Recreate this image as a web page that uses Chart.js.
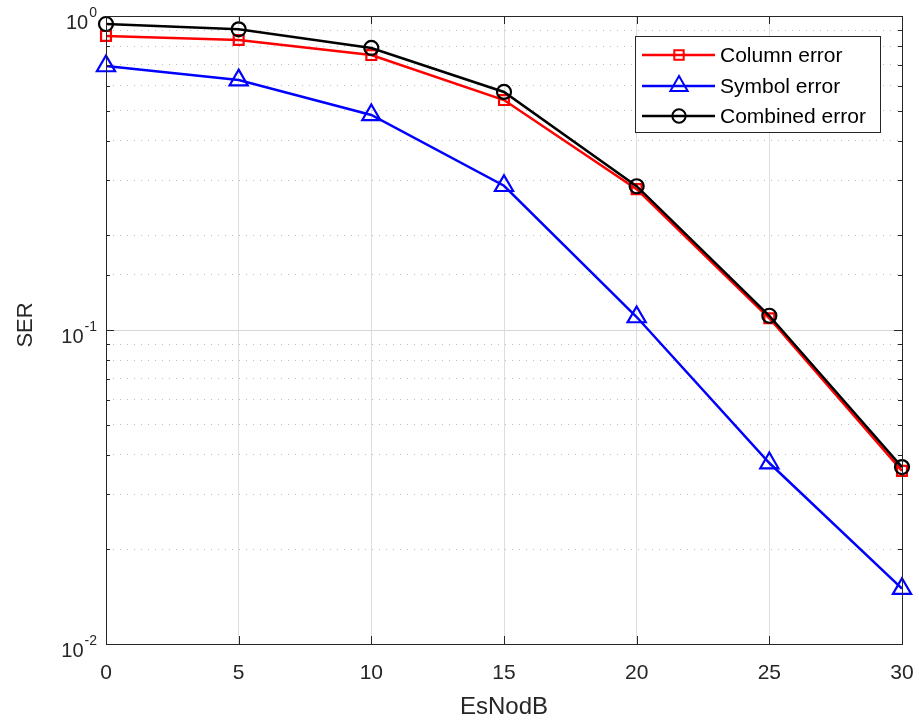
<!DOCTYPE html>
<html><head><meta charset="utf-8">
<script src="https://cdn.jsdelivr.net/npm/chart.js@4/dist/chart.umd.min.js"></script>
<style>html,body{margin:0;padding:0;background:#fff;}#wrap{width:919px;height:725px;}</style>
</head><body><div id="wrap"><canvas id="c" width="919" height="725"></canvas></div>
<script>
const esNodB = [0, 5, 10, 15, 20, 25, 30];
const columnError = [0.864, 0.839, 0.751, 0.540, 0.281, 0.109, 0.0356];
const symbolError = [0.693, 0.625, 0.484, 0.288, 0.110, 0.0377, 0.0150];
const combinedError = [0.943, 0.907, 0.791, 0.573, 0.287, 0.111, 0.0366];
const xTicks = [0, 5, 10, 15, 20, 25, 30];
const yDecades = [0, -1, -2];
const seriesNames = ['Column error', 'Symbol error', 'Combined error'];
const xTitle = 'EsNodB';
const yTitle = 'SER';

const FONT = '"Liberation Sans", Arial, sans-serif';
const TXT = '#262626';
function isMajor(v){ const l = Math.log10(v); return Math.abs(l - Math.round(l)) < 1e-6; }

const pts = (ys) => esNodB.map((x, i) => ({x, y: ys[i]}));

const decorPlugin = {
  id: 'decor',
  afterDraw(chart) {
    const ctx = chart.ctx, a = chart.chartArea, xs = chart.scales.x, ys = chart.scales.y;
    ctx.save();
    // inward ticks
    ctx.strokeStyle = TXT; ctx.lineWidth = 1;
    ctx.beginPath();
    xTicks.forEach(v => {
      const px = Math.round(xs.getPixelForValue(v)) + 0.5;
      ctx.moveTo(px, a.bottom); ctx.lineTo(px, a.bottom - 8);
      ctx.moveTo(px, a.top); ctx.lineTo(px, a.top + 8);
    });
    ys.ticks.forEach(t => {
      const py = Math.round(ys.getPixelForValue(t.value)) + 0.5;
      const len = isMajor(t.value) ? 8 : 4;
      ctx.moveTo(a.left, py); ctx.lineTo(a.left + len, py);
      ctx.moveTo(a.right, py); ctx.lineTo(a.right - len, py);
    });
    ctx.stroke();
    // box
    ctx.strokeRect(Math.round(a.left) + 0.5, Math.round(a.top) + 0.5, Math.round(a.right - a.left), Math.round(a.bottom - a.top));
    // y labels 10^n
    ctx.fillStyle = TXT;
    yDecades.forEach(n => {
      const py = ys.getPixelForValue(Math.pow(10, n));
      const sup = String(n);
      ctx.font = '14px ' + FONT;
      const sw = ctx.measureText(sup).width;
      ctx.textBaseline = 'middle';
      ctx.textAlign = 'right';
      const right = a.left - 9;
      ctx.fillText(sup, right, py - 3);
      ctx.font = '20px ' + FONT;
      ctx.fillText('10', right - sw - 1, py + 7);
    });
    // x labels
    ctx.font = '21px ' + FONT; ctx.textAlign = 'center'; ctx.textBaseline = 'middle';
    xTicks.forEach(v => ctx.fillText(String(v), xs.getPixelForValue(v), 673));
    // titles
    ctx.font = '24px ' + FONT;
    ctx.fillText(xTitle, (a.left + a.right) / 2, 707);
    ctx.font = '22px ' + FONT;
    ctx.save(); ctx.translate(26, (a.top + a.bottom) / 2 - 5); ctx.rotate(-Math.PI / 2);
    ctx.fillText(yTitle, 0, 0); ctx.restore();
    // legend
    const lx = 635, ly = 36, lw = 245, lh = 96;
    ctx.fillStyle = '#fff'; ctx.fillRect(lx, ly, lw, lh);
    ctx.strokeStyle = TXT; ctx.lineWidth = 1;
    ctx.strokeRect(lx + 0.5, ly + 0.5, lw, lh);
    const rows = [55, 86, 116];
    chart.data.datasets.forEach((ds, i) => {
      const y = rows[i];
      ctx.strokeStyle = ds.borderColor; ctx.lineWidth = 2.5;
      ctx.beginPath(); ctx.moveTo(642, y); ctx.lineTo(715, y); ctx.stroke();
      ctx.fillStyle = 'rgba(0,0,0,0)';
      ctx.lineWidth = 2;
      Chart.helpers.drawPoint(ctx, {pointStyle: ds.pointStyle, radius: ds.pointRadius * 0.95, borderWidth: 2, rotation: 0}, 679, y);
      ctx.fillStyle = '#000'; ctx.font = '21px ' + FONT; ctx.textAlign = 'left'; ctx.textBaseline = 'middle';
      ctx.fillText(ds.label, 720, y + 1);
    });
    ctx.restore();
  }
};

new Chart(document.getElementById('c'), {
  type: 'line',
  data: {
    datasets: [
      {label: seriesNames[0], data: pts(columnError), borderColor: '#ff0000', pointBackgroundColor: 'rgba(0,0,0,0)', pointStyle: 'rect', pointRadius: 7, pointBorderWidth: 2.2, borderWidth: 2.5, order: 3, clip: false},
      {label: seriesNames[1], data: pts(symbolError), borderColor: '#0000ff', pointBackgroundColor: 'rgba(0,0,0,0)', pointStyle: 'triangle', pointRadius: 10.5, pointBorderWidth: 2.2, borderWidth: 2.5, order: 2, clip: false},
      {label: seriesNames[2], data: pts(combinedError), borderColor: '#000000', pointBackgroundColor: 'rgba(0,0,0,0)', pointStyle: 'circle', pointRadius: 7, pointBorderWidth: 2.2, borderWidth: 2.5, order: 1, clip: false}
    ]
  },
  options: {
    responsive: false, animation: false,
    layout: {padding: {top: 16, right: 17, left: 0, bottom: 0}},
    plugins: {legend: {display: false}, tooltip: {enabled: false}},
    elements: {line: {tension: 0}},
    scales: {
      x: {
        type: 'linear', min: 0, max: 30,
        afterFit: s => { s.height = 81; },
        afterBuildTicks: s => { s.ticks = xTicks.map(v => ({value: v})); },
        ticks: {display: false},
        grid: {color: '#dedede', lineWidth: 1, drawTicks: false},
        border: {display: false}
      },
      y: {
        type: 'logarithmic', min: 0.01, max: 1,
        afterFit: s => { s.width = 106; },
        ticks: {display: false, autoSkip: false},
        grid: {
          drawTicks: false,
          color: c => (c.tick && isMajor(c.tick.value)) ? '#d6d6d6' : '#bdbdbd',
          lineWidth: 1
        },
        border: {display: false, dash: c => (c.tick && !isMajor(c.tick.value)) ? [1, 6] : []}
      }
    }
  },
  plugins: [decorPlugin]
});
</script></body></html>
